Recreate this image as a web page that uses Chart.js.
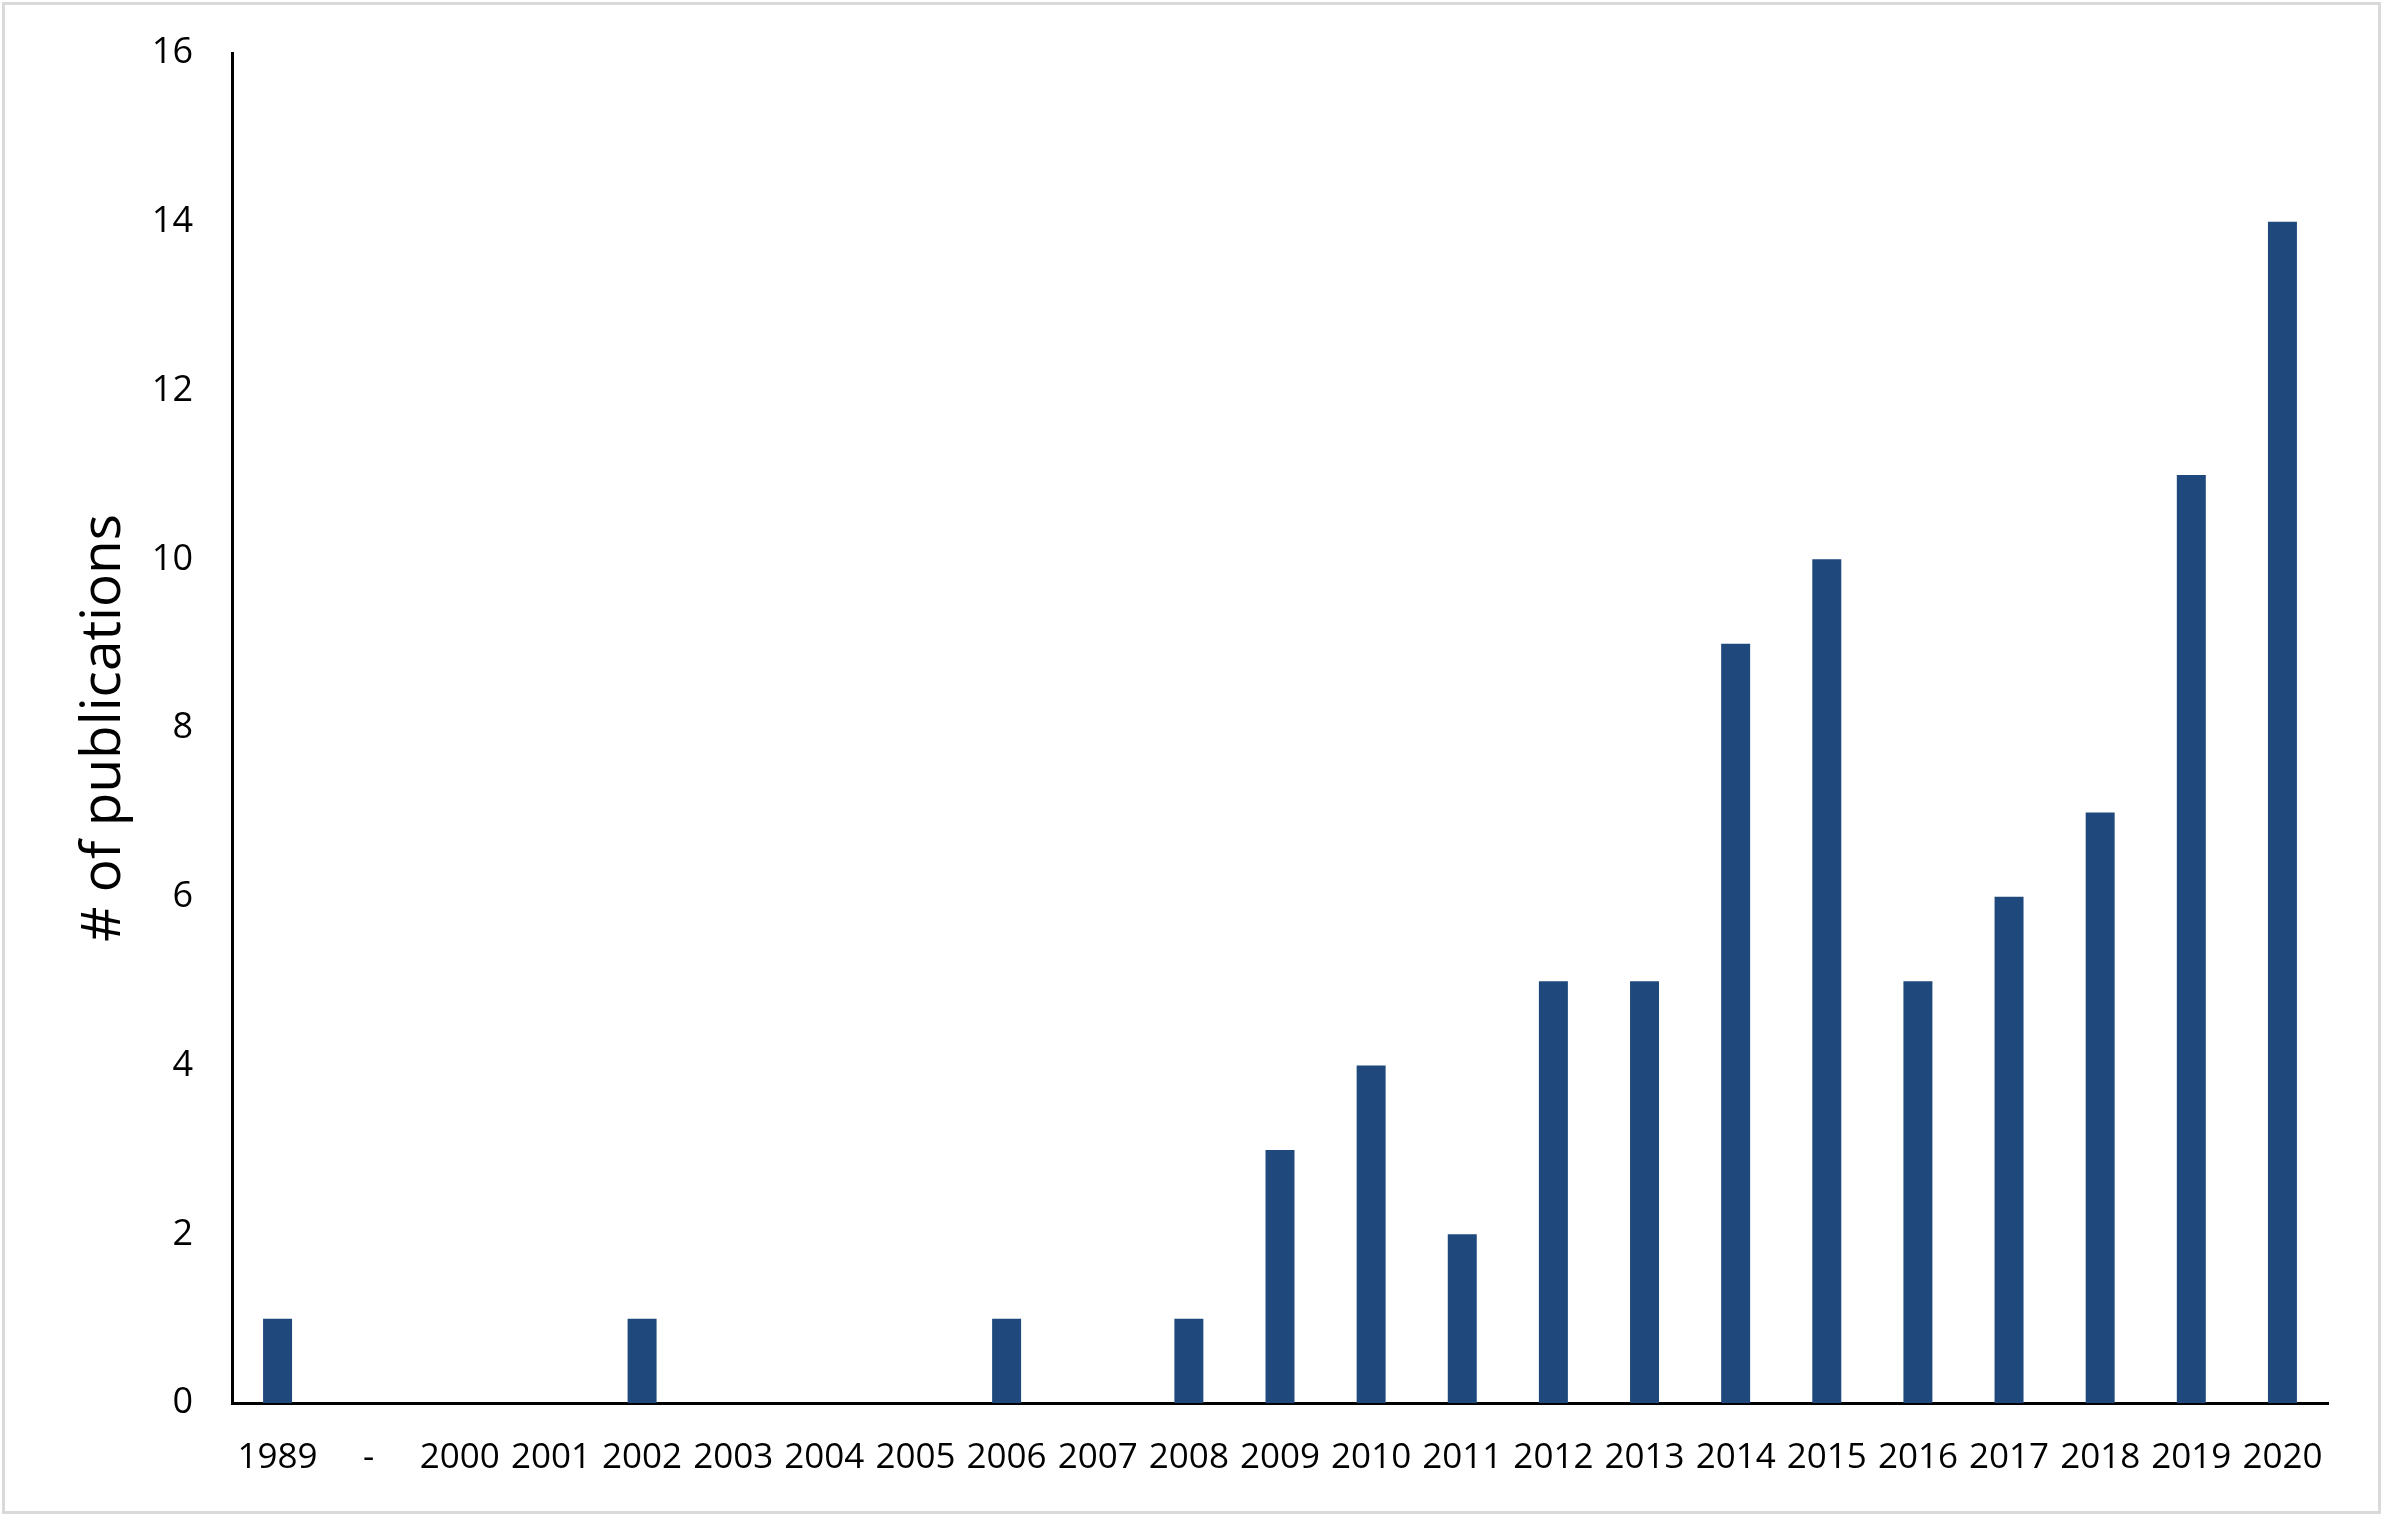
<!DOCTYPE html>
<html>
<head>
<meta charset="utf-8">
<script src="https://cdn.jsdelivr.net/npm/chart.js@4.4.1/dist/chart.umd.min.js"></script>
<style>
  html, body { margin: 0; padding: 0; background: #ffffff; }
  #wrap { position: relative; width: 2387px; height: 1521px; overflow: hidden; }
  #frame { position: absolute; left: 2px; top: 2px; width: 2373px; height: 1506px; border: 3px solid #d9d9d9; pointer-events: none; }
  canvas { position: absolute; left: 0; top: 0; }
</style>
</head>
<body>
<div id="wrap">
  <canvas id="c" width="2387" height="1521"></canvas>
  <div id="frame"></div>
</div>
<script>
const categories = ["1989", "-", "2000", "2001", "2002", "2003", "2004", "2005", "2006", "2007", "2008",
  "2009", "2010", "2011", "2012", "2013", "2014", "2015", "2016", "2017", "2018", "2019", "2020"];
const publications = [1, 0, 0, 0, 1, 0, 0, 0, 1, 0, 1, 3, 4, 2, 5, 5, 9, 10, 5, 6, 7, 11, 14];
const yTickValues = [0, 2, 4, 6, 8, 10, 12, 14, 16];
const yAxisTitle = "# of publications";

const FONT = "'Open Sans', 'Liberation Sans', sans-serif";

new Chart(document.getElementById('c'), {
  type: 'bar',
  data: {
    labels: categories,
    datasets: [{
      data: publications,
      backgroundColor: '#1F497D',
      borderWidth: 0,
      barPercentage: 0.318,
      categoryPercentage: 1.0
    }]
  },
  options: {
    responsive: false,
    animation: false,
    devicePixelRatio: 1,
    layout: { padding: { left: 0, right: 59, top: 53, bottom: 0 } },
    plugins: { legend: { display: false }, tooltip: { enabled: false } },
    scales: {
      x: {
        grid: { display: false, drawTicks: false },
        border: { display: true, color: '#000000', width: 3 },
        ticks: {
          color: '#000000',
          font: { family: FONT, size: 35 },
          padding: 34,
          autoSkip: false,
          maxRotation: 0,
          minRotation: 0
        },
        afterFit: (s) => { s.height = 118; }
      },
      y: {
        min: 0,
        max: 16,
        afterBuildTicks: (s) => { s.ticks = yTickValues.map(v => ({ value: v })); },
        grid: { display: false, drawTicks: false },
        border: { display: true, color: '#000000', width: 3 },
        ticks: {
          color: '#000000',
          font: { family: FONT, size: 36 },
          padding: 39
        },
        title: {
          display: true,
          text: yAxisTitle,
          color: '#000000',
          font: { family: FONT, size: 55 },
          padding: { top: 71, bottom: 0 }
        },
        afterFit: (s) => { s.width = 232; s.paddingTop = 20; s.paddingBottom = 20; }
      }
    }
  }
});
</script>
</body>
</html>
